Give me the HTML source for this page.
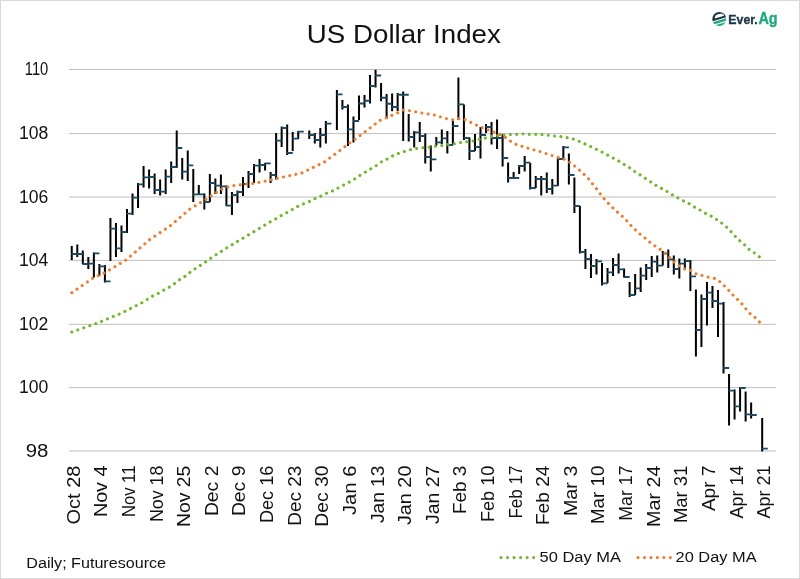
<!DOCTYPE html>
<html lang="en"><head><meta charset="utf-8"><title>US Dollar Index</title>
<style>
html,body{margin:0;padding:0;background:#fff}
body{width:800px;height:579px;overflow:hidden}
svg{display:block}
text{font-family:"Liberation Sans",sans-serif;fill:#111}
</style></head><body>
<svg width="800" height="579" viewBox="0 0 800 579">
<rect x="0" y="0" width="800" height="579" fill="#fff"/>
<rect x="0.5" y="0.5" width="799" height="578" fill="none" stroke="#d9d9d9" stroke-width="1"/>

<g stroke="#bfbfbf" stroke-width="1" shape-rendering="auto">
<line x1="69" y1="69.5" x2="776" y2="69.5"/>
<line x1="69" y1="133.6" x2="776" y2="133.6"/>
<line x1="69" y1="197.0" x2="776" y2="197.0"/>
<line x1="69" y1="260.4" x2="776" y2="260.4"/>
<line x1="69" y1="324.3" x2="776" y2="324.3"/>
<line x1="69" y1="387.6" x2="776" y2="387.6"/>
<line x1="69" y1="451.0" x2="776" y2="451.0"/>
</g>
<path d="M71.76 246.0V260.0M77.29 244.4V257.0M82.81 250.4V264.0M88.33 257.0V269.0M93.86 252.4V277.6M99.38 264.0V276.0M104.90 265.0V282.4M110.43 218.0V261.0M115.95 223.0V257.0M121.47 225.6V252.0M127.00 209.0V233.0M132.52 193.6V215.0M138.04 183.0V208.0M143.57 166.0V187.6M149.09 169.6V188.4M154.61 173.6V194.0M160.14 179.4V195.6M165.66 169.6V194.0M171.18 161.6V183.0M176.71 130.6V168.0M182.23 158.0V179.4M187.75 150.6V181.0M193.28 169.0V202.0M198.80 185.0V195.0M204.32 193.6V209.4M209.85 174.0V202.0M215.37 178.4V194.0M220.89 174.4V194.0M226.42 185.6V206.0M231.94 192.0V215.0M237.46 190.6V203.0M242.99 177.0V196.0M248.51 171.0V188.0M254.03 164.0V183.0M259.56 159.0V172.4M265.08 163.0V170.4M270.60 172.0V183.0M276.13 133.0V179.4M281.65 126.4V147.0M287.17 124.4V155.0M292.70 132.0V151.0M298.22 131.0V139.0M309.27 130.6V139.0M314.79 133.0V143.6M320.31 128.0V147.6M325.84 121.0V143.6M336.88 90.0V130.0M342.41 100.0V109.4M347.93 104.4V146.0M353.46 116.4V142.4M358.98 95.6V120.0M364.50 95.0V107.5M370.03 75.0V103.5M375.55 69.7V87.5M381.07 83.0V101.2M386.60 94.0V119.0M392.12 93.5V111.2M397.64 93.0V111.0M403.17 91.5V141.0M408.69 114.0V141.6M414.21 131.0V147.6M419.74 122.0V142.0M425.26 133.6V163.6M430.78 145.6V171.6M436.31 137.0V146.0M441.83 129.6V144.0M447.35 131.0V153.6M452.88 121.0V145.0M458.40 77.6V120.0M463.92 104.4V140.0M469.45 137.6V160.0M474.97 134.0V151.0M480.49 127.0V158.4M486.02 124.0V133.0M491.54 122.0V144.4M497.06 119.6V149.0M502.59 134.0V166.4M508.11 162.4V182.4M513.63 172.0V179.0M519.16 165.0V174.0M524.68 156.0V171.6M530.20 163.0V189.4M535.73 176.0V188.0M541.25 176.0V195.6M546.77 172.4V193.0M552.30 179.0V194.4M557.82 158.0V186.0M563.34 146.0V160.0M568.87 153.6V184.6M574.39 177.6V213.0M579.91 206.0V253.6M585.44 249.0V269.0M590.96 254.0V278.0M596.48 259.0V274.4M602.01 263.0V285.6M607.53 268.0V283.0M613.05 258.0V276.0M618.58 253.6V273.6M624.10 268.6V277.6M629.63 282.0V297.0M635.15 274.0V295.0M640.67 267.6V292.0M646.20 264.0V280.0M651.72 256.0V277.0M657.24 255.6V272.4M662.77 251.0V265.6M668.29 249.6V268.0M673.81 255.6V274.4M679.34 258.4V278.4M684.86 258.4V268.0M690.38 260.0V291.0M695.91 289.6V356.4M701.43 294.4V347.0M706.95 282.0V325.6M712.48 286.0V308.0M718.00 290.0V337.0M723.52 302.0V373.4M729.05 374.0V425.6M734.57 389.6V419.4M740.09 387.0V411.6M745.62 391.6V421.4M751.14 402.4V418.4M762.19 418.0V451.4" stroke="#000" stroke-width="2.0" fill="none"/>
<path d="M71.36 254.0h6.0M76.89 254.0h6.0M82.41 264.0h6.0M87.93 263.6h6.0M93.46 253.4h6.0M98.98 266.4h6.0M104.50 281.4h6.0M110.03 228.6h6.0M115.55 248.4h6.0M121.07 232.0h6.0M126.60 213.6h6.0M132.12 197.6h6.0M137.64 184.4h6.0M143.17 177.4h6.0M148.69 177.0h6.0M154.21 190.0h6.0M159.74 191.6h6.0M165.26 176.6h6.0M170.78 167.0h6.0M176.31 148.0h6.0M181.83 171.6h6.0M187.35 165.4h6.0M192.88 194.4h6.0M198.40 194.4h6.0M203.92 202.0h6.0M209.45 183.0h6.0M214.97 185.6h6.0M220.49 186.4h6.0M226.02 205.6h6.0M231.54 195.0h6.0M237.06 192.0h6.0M242.59 184.0h6.0M248.11 174.0h6.0M253.63 165.6h6.0M259.16 165.0h6.0M264.68 163.4h6.0M270.20 175.0h6.0M275.73 140.6h6.0M281.25 128.0h6.0M286.77 153.0h6.0M292.30 138.6h6.0M297.82 131.6h6.0M308.87 135.0h6.0M314.39 140.0h6.0M319.91 135.0h6.0M325.44 123.6h6.0M336.48 94.4h6.0M342.01 107.0h6.0M347.53 129.4h6.0M353.06 121.0h6.0M358.58 103.5h6.0M364.10 100.8h6.0M369.63 86.0h6.0M375.15 75.5h6.0M380.67 97.8h6.0M386.20 103.8h6.0M391.72 107.0h6.0M397.24 94.7h6.0M402.77 94.7h6.0M408.29 137.0h6.0M413.81 132.4h6.0M419.34 136.0h6.0M424.86 157.0h6.0M430.38 159.4h6.0M435.91 142.4h6.0M441.43 138.4h6.0M446.95 145.0h6.0M452.48 126.0h6.0M458.00 104.4h6.0M463.52 138.0h6.0M469.05 151.0h6.0M474.57 147.0h6.0M480.09 135.0h6.0M485.62 127.0h6.0M491.14 138.0h6.0M496.66 138.0h6.0M502.19 158.0h6.0M507.71 178.0h6.0M513.23 178.0h6.0M518.76 166.0h6.0M524.28 162.6h6.0M529.80 188.0h6.0M535.33 179.0h6.0M540.85 179.0h6.0M546.37 189.0h6.0M551.90 185.6h6.0M557.42 159.0h6.0M562.94 147.4h6.0M568.47 175.0h6.0M573.99 206.0h6.0M579.51 252.0h6.0M585.04 259.0h6.0M590.56 266.0h6.0M596.08 261.4h6.0M601.61 283.4h6.0M607.13 272.4h6.0M612.65 265.0h6.0M618.18 269.4h6.0M623.70 277.0h6.0M629.23 295.0h6.0M634.75 288.4h6.0M640.27 275.6h6.0M645.80 268.0h6.0M651.32 261.6h6.0M656.84 265.6h6.0M662.37 253.6h6.0M667.89 259.4h6.0M673.41 269.0h6.0M678.94 263.6h6.0M684.46 261.0h6.0M689.98 276.4h6.0M695.51 330.0h6.0M701.03 299.0h6.0M706.55 292.6h6.0M712.08 301.0h6.0M717.60 303.6h6.0M723.12 368.0h6.0M728.65 390.6h6.0M734.17 406.4h6.0M739.69 388.0h6.0M745.22 414.4h6.0M750.74 415.0h6.0M761.79 448.6h6.0" stroke="#1e4a5f" stroke-width="1.9" fill="none"/>
<polyline points="71.8,332.0 96.0,323.6 119.4,314.0 141.5,303.0 153.0,295.8 159.0,293.0 164.0,290.0 169.6,287.0 174.6,283.6 179.6,279.6 185.0,276.4 190.0,272.4 195.4,268.6 200.6,265.2 206.0,261.6 211.4,257.8 216.6,254.4 227.2,247.6 248.0,235.2 265.0,225.0 270.0,222.0 275.6,219.0 281.0,215.6 287.0,212.4 292.4,209.4 298.4,206.0 304.0,203.6 309.6,201.4 315.6,198.2 321.0,196.0 327.0,193.0 332.4,191.0 338.0,188.0 343.6,185.0 349.4,182.0 354.6,179.0 359.6,175.6 376.0,165.8 381.6,161.8 387.0,159.0 392.4,156.0 398.0,153.6 404.0,151.6 409.6,149.8 416.0,148.6 422.4,147.8 429.0,147.2 436.0,146.2 442.0,145.5 448.0,144.5 454.0,143.8 461.0,142.4 467.6,141.6 473.4,141.0 479.4,139.4 485.6,138.0 491.6,136.4 498.0,135.6 504.0,135.0 510.4,134.6 516.6,134.4 523.0,134.0 529.4,134.4 535.6,134.4 542.0,134.6 548.0,135.2 554.4,136.0 560.6,136.6 567.0,137.6 573.2,139.0 579.2,141.3 585.0,144.0 590.6,146.6 596.4,149.4 602.0,152.0 607.6,155.0 613.0,158.0 618.6,161.0 624.0,164.4 629.4,167.6 634.6,171.5 639.6,174.6 645.4,178.4 656.0,185.4 667.0,191.5 672.6,195.0 678.0,198.0 683.6,201.0 689.0,203.6 694.4,207.0 700.0,210.0 705.6,213.4 711.0,216.0 716.6,219.5 721.6,223.0 726.6,227.0 731.0,231.6 735.4,236.4 739.6,240.6 744.4,244.6 749.0,249.3 754.2,252.8 759.2,256.8 762.2,259.0" fill="none" stroke="#76b531" stroke-width="3.1" stroke-linecap="round" stroke-linejoin="round" stroke-dasharray="0.01 6.32"/>
<polyline points="71.8,292.7 93.6,277.6 104.4,273.0 126.0,260.0 150.0,239.4 170.0,226.0 190.0,209.0 206.0,199.4 211.6,195.6 222.0,189.0 228.0,187.0 234.0,185.6 247.0,184.0 253.0,183.6 266.0,181.0 277.0,178.4 290.0,175.6 302.0,173.0 314.0,167.0 325.0,161.6 338.0,152.0 348.0,144.2 360.0,135.5 370.0,128.0 380.0,120.4 386.0,118.0 397.4,113.0 403.0,110.0 409.0,110.6 422.0,113.0 434.0,115.0 447.0,118.8 453.0,119.8 459.0,118.6 465.0,119.6 471.0,122.4 477.0,125.4 483.0,128.0 489.0,130.4 495.0,132.4 500.0,134.6 505.6,137.6 511.0,141.6 516.6,144.6 528.0,148.2 540.0,151.6 552.0,155.6 558.0,157.3 564.0,159.0 569.4,162.0 574.6,166.0 579.4,170.0 584.0,174.4 588.6,179.0 592.4,183.6 596.4,188.6 600.4,194.0 604.4,199.0 608.6,203.6 613.0,208.0 617.6,212.2 622.4,216.4 627.0,221.0 631.2,225.8 635.6,230.2 640.2,234.2 645.4,238.4 650.0,242.4 655.0,246.0 660.6,249.7 665.4,253.3 669.8,257.8 674.4,262.2 679.4,266.0 685.0,269.2 691.2,270.5 696.5,274.2 702.4,275.6 708.4,277.2 714.2,278.3 719.5,281.3 724.6,286.0 729.0,290.6 733.4,295.6 737.6,299.6 742.0,304.0 746.0,309.0 750.4,314.0 755.0,317.4 759.4,322.0 762.2,324.5" fill="none" stroke="#ed7d31" stroke-width="3.1" stroke-linecap="round" stroke-linejoin="round" stroke-dasharray="0.01 6.298"/>
<text x="306.8" y="43.2" font-size="26.5" textLength="194" lengthAdjust="spacingAndGlyphs">US Dollar Index</text>
<text x="24.8"  y="75.2" font-size="18" textLength="23.5" lengthAdjust="spacingAndGlyphs">110</text>
<text x="19.0"  y="139.2" font-size="18" textLength="29.3" lengthAdjust="spacingAndGlyphs">108</text>
<text x="19.0"  y="202.7" font-size="18" textLength="29.3" lengthAdjust="spacingAndGlyphs">106</text>
<text x="19.0"  y="266.1" font-size="18" textLength="29.3" lengthAdjust="spacingAndGlyphs">104</text>
<text x="19.0"  y="330.0" font-size="18" textLength="29.3" lengthAdjust="spacingAndGlyphs">102</text>
<text x="19.0"  y="393.3" font-size="18" textLength="29.3" lengthAdjust="spacingAndGlyphs">100</text>
<text x="25.7"  y="456.7" font-size="18" textLength="22.6" lengthAdjust="spacingAndGlyphs">98</text>
<text transform="translate(79.7 524.4) rotate(-90)" font-size="18.3" textLength="58.8" lengthAdjust="spacingAndGlyphs">Oct 28</text>
<text transform="translate(107.3 517.1) rotate(-90)" font-size="18.3" textLength="51.5" lengthAdjust="spacingAndGlyphs">Nov 4</text>
<text transform="translate(134.9 517.1) rotate(-90)" font-size="18.3" textLength="51.5" lengthAdjust="spacingAndGlyphs">Nov 11</text>
<text transform="translate(162.6 522.1) rotate(-90)" font-size="18.3" textLength="56.5" lengthAdjust="spacingAndGlyphs">Nov 18</text>
<text transform="translate(190.2 527.1) rotate(-90)" font-size="18.3" textLength="61.5" lengthAdjust="spacingAndGlyphs">Nov 25</text>
<text transform="translate(217.8 516.1) rotate(-90)" font-size="18.3" textLength="50.5" lengthAdjust="spacingAndGlyphs">Dec 2</text>
<text transform="translate(245.4 516.1) rotate(-90)" font-size="18.3" textLength="50.5" lengthAdjust="spacingAndGlyphs">Dec 9</text>
<text transform="translate(273.0 523.1) rotate(-90)" font-size="18.3" textLength="57.5" lengthAdjust="spacingAndGlyphs">Dec 16</text>
<text transform="translate(300.6 525.7) rotate(-90)" font-size="18.3" textLength="60.1" lengthAdjust="spacingAndGlyphs">Dec 23</text>
<text transform="translate(328.3 526.8) rotate(-90)" font-size="18.3" textLength="61.2" lengthAdjust="spacingAndGlyphs">Dec 30</text>
<text transform="translate(355.9 515.1) rotate(-90)" font-size="18.3" textLength="49.5" lengthAdjust="spacingAndGlyphs">Jan 6</text>
<text transform="translate(383.5 523.1) rotate(-90)" font-size="18.3" textLength="57.5" lengthAdjust="spacingAndGlyphs">Jan 13</text>
<text transform="translate(411.1 525.1) rotate(-90)" font-size="18.3" textLength="59.5" lengthAdjust="spacingAndGlyphs">Jan 20</text>
<text transform="translate(438.7 524.1) rotate(-90)" font-size="18.3" textLength="58.5" lengthAdjust="spacingAndGlyphs">Jan 27</text>
<text transform="translate(466.3 514.1) rotate(-90)" font-size="18.3" textLength="48.5" lengthAdjust="spacingAndGlyphs">Feb 3</text>
<text transform="translate(494.0 522.1) rotate(-90)" font-size="18.3" textLength="56.5" lengthAdjust="spacingAndGlyphs">Feb 10</text>
<text transform="translate(521.6 518.6) rotate(-90)" font-size="18.3" textLength="53.0" lengthAdjust="spacingAndGlyphs">Feb 17</text>
<text transform="translate(549.2 525.1) rotate(-90)" font-size="18.3" textLength="59.5" lengthAdjust="spacingAndGlyphs">Feb 24</text>
<text transform="translate(576.8 516.1) rotate(-90)" font-size="18.3" textLength="50.5" lengthAdjust="spacingAndGlyphs">Mar 3</text>
<text transform="translate(604.4 524.1) rotate(-90)" font-size="18.3" textLength="58.5" lengthAdjust="spacingAndGlyphs">Mar 10</text>
<text transform="translate(632.0 520.7) rotate(-90)" font-size="18.3" textLength="55.1" lengthAdjust="spacingAndGlyphs">Mar 17</text>
<text transform="translate(659.7 526.9) rotate(-90)" font-size="18.3" textLength="61.3" lengthAdjust="spacingAndGlyphs">Mar 24</text>
<text transform="translate(687.3 523.1) rotate(-90)" font-size="18.3" textLength="57.5" lengthAdjust="spacingAndGlyphs">Mar 31</text>
<text transform="translate(714.9 511.1) rotate(-90)" font-size="18.3" textLength="45.5" lengthAdjust="spacingAndGlyphs">Apr 7</text>
<text transform="translate(742.5 518.6) rotate(-90)" font-size="18.3" textLength="53.0" lengthAdjust="spacingAndGlyphs">Apr 14</text>
<text transform="translate(770.1 518.6) rotate(-90)" font-size="18.3" textLength="53.0" lengthAdjust="spacingAndGlyphs">Apr 21</text>
<text x="26.3" y="568" font-size="14.7" textLength="139.8" lengthAdjust="spacingAndGlyphs">Daily; Futuresource</text>
<line x1="501" y1="557.6" x2="534" y2="557.6" stroke="#76b531" stroke-width="3.1" stroke-linecap="round" stroke-dasharray="0.01 6.52"/>
<text x="539.6" y="562.3" font-size="14.7" textLength="81.4" lengthAdjust="spacingAndGlyphs">50 Day MA</text>
<line x1="638" y1="557.6" x2="671" y2="557.6" stroke="#ed7d31" stroke-width="3.1" stroke-linecap="round" stroke-dasharray="0.01 6.45"/>
<text x="675.6" y="562.3" font-size="14.7" textLength="81" lengthAdjust="spacingAndGlyphs">20 Day MA</text>
<defs><clipPath id="lc"><circle cx="719.25" cy="19.0" r="7.0"/></clipPath></defs>
<g clip-path="url(#lc)">
<path d="M705 23.49 L735 14.49 L735 0 L705 0Z" fill="#1b3447"/>
<path d="M715.0 18.55 A4.8 3.2 -16.6 0 1 724.2 15.8 Z" fill="#fff"/>
<path d="M705 24.59 L735 15.59 L735 17.99 L705 26.99Z" fill="#1fa87e"/>
<path d="M705 28.29 L735 19.29 L735 40 L705 40Z" fill="#1fa87e"/>
</g>
<text x="728.3" y="23.8" font-size="12.2" font-weight="bold" textLength="29.5" lengthAdjust="spacingAndGlyphs" style="fill:#1b3447;stroke:#1b3447;stroke-width:0.35">Ever.</text>
<text x="758.4" y="23.8" font-size="16" font-weight="bold" textLength="19.2" lengthAdjust="spacingAndGlyphs" style="fill:#1fa87e;stroke:#1fa87e;stroke-width:0.35">Ag</text>

</svg></body></html>
